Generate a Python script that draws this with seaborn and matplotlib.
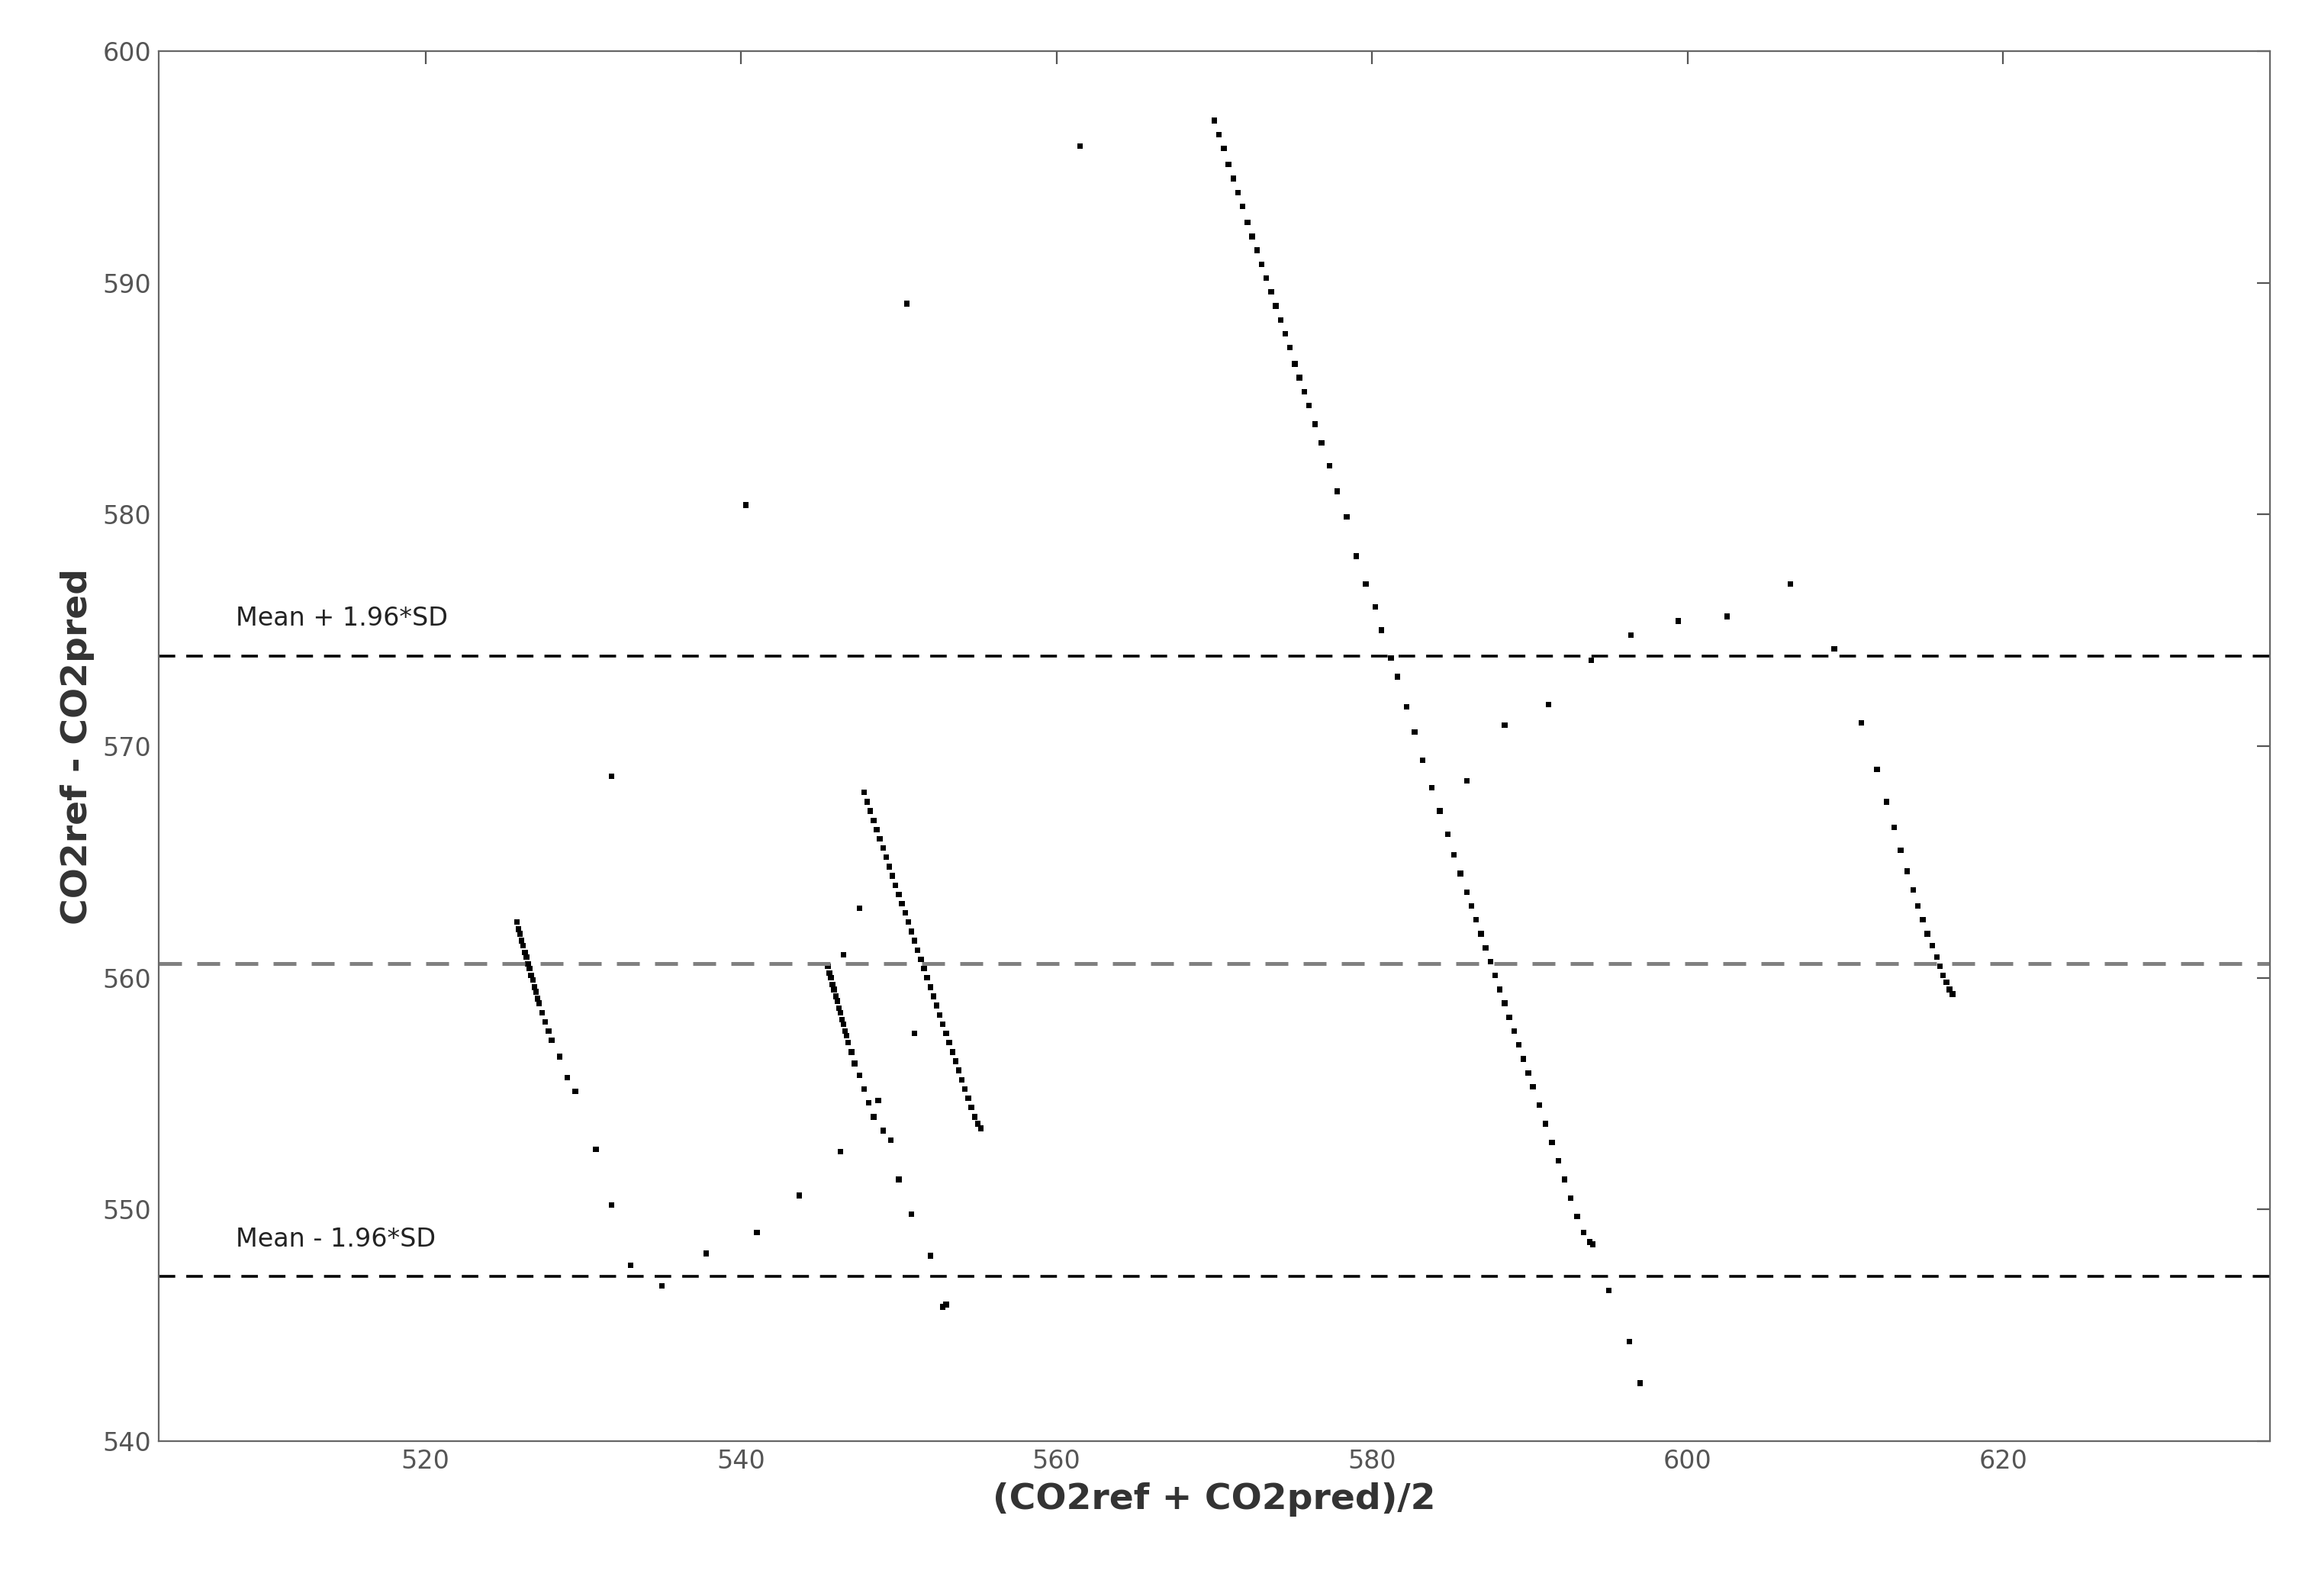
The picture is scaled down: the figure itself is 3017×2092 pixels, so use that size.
import matplotlib
matplotlib.use("Agg")
import matplotlib.pyplot as plt
import seaborn as sns
import pandas as pd

# Bland-Altman style scatter
seg_a_x = [525.8, 525.9, 526.0, 526.1, 526.2, 526.3, 526.4, 526.5, 526.6, 526.7, 526.8, 526.9, 527.0, 527.1, 527.2, 527.4, 527.6, 527.8, 528.0,
           528.5, 529.0, 529.5, 530.8, 531.8, 533.0, 535.0, 537.8, 541.0, 543.7, 546.3]
seg_a_y = [562.4, 562.1, 561.9, 561.6, 561.4, 561.1, 560.9, 560.6, 560.4, 560.1, 559.9, 559.6, 559.4, 559.1, 558.9, 558.5, 558.1, 557.7, 557.3,
           556.6, 555.7, 555.1, 552.6, 550.2, 547.6, 546.7, 548.1, 549.0, 550.6, 552.5]
seg_b_x = [545.5, 545.6, 545.7, 545.8, 545.9, 546.0, 546.1, 546.2, 546.3, 546.4, 546.5, 546.6, 546.7, 546.8, 547.0, 547.2, 547.5, 547.8, 548.1,
           548.4, 548.7, 549.0, 549.5, 550.0, 550.8, 552.0, 552.8, 553.0]
seg_b_y = [560.5, 560.2, 560.0, 559.7, 559.5, 559.2, 559.0, 558.7, 558.5, 558.2, 558.0, 557.7, 557.5, 557.2, 556.8, 556.3, 555.8, 555.2, 554.6,
           554.0, 554.7, 553.4, 553.0, 551.3, 549.8, 548.0, 545.8, 545.9]
seg_c_x = [547.8, 548.0, 548.2, 548.4, 548.6, 548.8, 549.0, 549.2, 549.4, 549.6, 549.8, 550.0, 550.2, 550.4, 550.6, 550.8, 551.0, 551.2,
           551.4, 551.6, 551.8, 552.0, 552.2, 552.4, 552.6, 552.8, 553.0, 553.2, 553.4, 553.6, 553.8, 554.0, 554.2, 554.4, 554.6,
           554.8, 555.0, 555.2]
seg_c_y = [568.0, 567.6, 567.2, 566.8, 566.4, 566.0, 565.6, 565.2, 564.8, 564.4, 564.0, 563.6, 563.2, 562.8, 562.4, 562.0, 561.6, 561.2,
           560.8, 560.4, 560.0, 559.6, 559.2, 558.8, 558.4, 558.0, 557.6, 557.2, 556.8, 556.4, 556.0, 555.6, 555.2, 554.8, 554.4,
           554.0, 553.7, 553.5]
seg_d_x = [570.0, 570.3, 570.6, 570.9, 571.2, 571.5, 571.8, 572.1, 572.4, 572.7, 573.0, 573.3, 573.6, 573.9, 574.2, 574.5, 574.8, 575.1, 575.4,
           575.7, 576.0, 576.4, 576.8, 577.3, 577.8, 578.4, 579.0, 579.6, 580.2, 580.6, 581.2, 581.6, 582.2, 582.7, 583.2, 583.8,
           584.3, 584.8, 585.2, 585.6, 586.0, 586.3, 586.6, 586.9, 587.2, 587.5, 587.8, 588.1, 588.4, 588.7, 589.0, 589.3, 589.6,
           589.9, 590.2, 590.6, 591.0, 591.4, 591.8, 592.2, 592.6, 593.0, 593.4, 593.8, 594.0, 595.0, 596.3, 597.0]
seg_d_y = [597.0, 596.4, 595.8, 595.1, 594.5, 593.9, 593.3, 592.6, 592.0, 591.4, 590.8, 590.2, 589.6, 589.0, 588.4, 587.8, 587.2, 586.5, 585.9,
           585.3, 584.7, 583.9, 583.1, 582.1, 581.0, 579.9, 578.2, 577.0, 576.0, 575.0, 573.8, 573.0, 571.7, 570.6, 569.4, 568.2,
           567.2, 566.2, 565.3, 564.5, 563.7, 563.1, 562.5, 561.9, 561.3, 560.7, 560.1, 559.5, 558.9, 558.3, 557.7, 557.1, 556.5,
           555.9, 555.3, 554.5, 553.7, 552.9, 552.1, 551.3, 550.5, 549.7, 549.0, 548.6, 548.5, 546.5, 544.3, 542.5]
seg_e_x = [586.0, 588.4, 591.2, 593.9, 596.4, 599.4, 602.5, 606.5, 609.3, 611.0, 612.0, 612.6, 613.1, 613.5, 613.9, 614.3, 614.6, 614.9,
           615.2, 615.5, 615.8, 616.0, 616.2, 616.4, 616.6, 616.8]
seg_e_y = [568.5, 570.9, 571.8, 573.7, 574.8, 575.4, 575.6, 577.0, 574.2, 571.0, 569.0, 567.6, 566.5, 565.5, 564.6, 563.8, 563.1, 562.5,
           561.9, 561.4, 560.9, 560.5, 560.1, 559.8, 559.5, 559.3]
outlier_x = [547.5, 546.5, 551.0, 531.8, 540.3, 550.5, 561.5]
outlier_y = [563.0, 561.0, 557.6, 568.7, 580.4, 589.1, 595.9]

mean_line = 560.6
upper_loa = 573.9
lower_loa = 547.1

df = pd.DataFrame({
    "x": seg_a_x + seg_b_x + seg_c_x + seg_d_x + seg_e_x + outlier_x,
    "y": seg_a_y + seg_b_y + seg_c_y + seg_d_y + seg_e_y + outlier_y,
})

sns.set_style("white")
fig = plt.figure(figsize=(15.085, 10.46), dpi=200)
ax = fig.add_axes([0.069, 0.097, 0.917, 0.871])
sns.scatterplot(data=df, x="x", y="y", ax=ax, color="black", s=7, marker="s", edgecolor="none")

ax.axhline(upper_loa, color="black", ls=(0, (6, 4)), lw=1.3)
ax.axhline(lower_loa, color="black", ls=(0, (6, 4)), lw=1.3)
ax.axhline(mean_line, color="#808080", ls=(0, (6, 4)), lw=1.8)
ax.text(508, 575.2, "Mean + 1.96*SD", fontsize=12, color="#222222")
ax.text(508, 548.4, "Mean - 1.96*SD", fontsize=12, color="#222222")

ax.set_xlim(503.1, 636.9)
ax.set_ylim(540, 600)
ax.set_xticks(range(520, 621, 20))
ax.set_yticks(range(540, 601, 10))
ax.tick_params(direction="in", top=True, right=True, length=6, labelsize=12, labelcolor="#555555", color="#555555")
for s in ax.spines.values():
    s.set_color("#666666")
ax.set_xlabel("(CO2ref + CO2pred)/2", fontsize=17, fontweight="bold", color="#333333")
ax.set_ylabel("CO2ref - CO2pred", fontsize=17, fontweight="bold", color="#333333")
fig.savefig("out.png", dpi=200)
